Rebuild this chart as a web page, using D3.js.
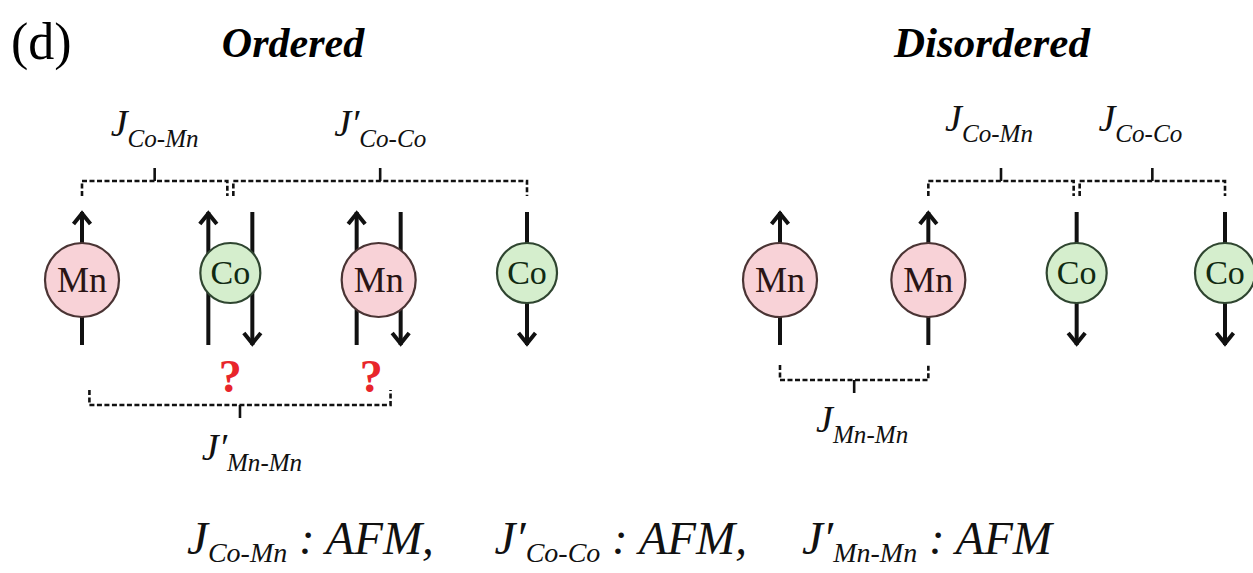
<!DOCTYPE html>
<html>
<head>
<meta charset="utf-8">
<script src="https://cdn.jsdelivr.net/npm/d3@7"></script>
<style>
  body { margin: 0; background: #fff; }
  svg text { font-family: 'Liberation Serif', 'Times New Roman', serif; }
</style>
</head>
<body>
<svg id="chart" width="1253" height="573"></svg>
<script>
// Atom chains, left = ordered, right = disordered
const orderedAtoms = ['Mn', 'Co', 'Mn', 'Co'];
const orderedSpins = [['up'], ['up', 'down'], ['up', 'down'], ['down']];
const disorderedAtoms = ['Mn', 'Mn', 'Co', 'Co'];
const disorderedSpins = [['up'], ['up'], ['down'], ['down']];

// Exchange brackets: [from slot, to slot, prime, subscript]
const orderedTop = [[0, 1, '', 'Co-Mn'], [1, 3, '′', 'Co-Co']];
const orderedBottom = [[0.05, 2.08, '′', 'Mn-Mn']];
const disorderedTop = [[1, 2, '', 'Co-Mn'], [2, 3, '', 'Co-Co']];
const disorderedBottom = [[0, 1, '', 'Mn-Mn']];

// Unresolved couplings (slot positions of the red marks)
const questionSlots = [1, 1.95];

// Summary line
const summary = [['', 'Co-Mn', 'AFM,'], ['′', 'Co-Co', 'AFM,'], ['′', 'Mn-Mn', 'AFM']];

const svg = d3.select('#chart');

const xOrd = d3.scaleLinear().domain([0, 3]).range([82, 527]);
const xDis = d3.scaleLinear().domain([0, 3]).range([780, 1225]);

const fill = { Mn: '#f8d2d7', Co: '#d5eecd' };
const edge = { Mn: '#4a3434', Co: '#2f4530' };
const radius = { Mn: 37, Co: 30 };
const cy = { Mn: 280, Co: 273 };

const spinTop = 212, spinBottom = 345, spinGap = 22;

// Headings
svg.append('text').attr('x', 11).attr('y', 59)
  .attr('font-size', 52).text('(d)');
svg.append('text').attr('x', 293).attr('y', 57)
  .attr('text-anchor', 'middle').attr('font-size', 42)
  .attr('font-weight', 'bold').attr('font-style', 'italic').text('Ordered');
svg.append('text').attr('x', 992).attr('y', 57)
  .attr('text-anchor', 'middle').attr('font-size', 43)
  .attr('font-weight', 'bold').attr('font-style', 'italic').text('Disordered');

function chevron(g, x, y, dir) {
  const h = 12 * dir;
  g.append('path')
    .attr('d', `M${x - 8.5},${y + h} L${x},${y + 1.5 * dir} L${x + 8.5},${y + h}`)
    .attr('fill', 'none').attr('stroke', '#111')
    .attr('stroke-width', 4).attr('stroke-linejoin', 'miter');
}

function drawChain(atoms, spins, x) {
  const g = svg.append('g');
  atoms.forEach((el, i) => {
    const cx = x(i);
    const n = spins[i].length;
    spins[i].forEach((s, k) => {
      const lx = n === 1 ? cx : cx + (k === 0 ? -spinGap : spinGap);
      g.append('line')
        .attr('x1', lx).attr('x2', lx)
        .attr('y1', spinTop).attr('y2', spinBottom)
        .attr('stroke', '#111').attr('stroke-width', 4);
      if (s === 'up') chevron(g, lx, spinTop, 1);
      else chevron(g, lx, spinBottom, -1);
    });
  });
  atoms.forEach((el, i) => {
    const cx = x(i);
    g.append('circle')
      .attr('cx', cx).attr('cy', cy[el]).attr('r', radius[el])
      .attr('fill', fill[el]).attr('stroke', edge[el]).attr('stroke-width', 2.2);
    g.append('text')
      .attr('x', cx).attr('y', cy[el] + (el === 'Mn' ? 12 : 11))
      .attr('text-anchor', 'middle')
      .attr('font-size', el === 'Mn' ? 36 : 34)
      .attr('fill', el === 'Mn' ? '#2a1515' : '#102a12')
      .text(el);
  });
}

function jLabel(g, x, y, prime, sub, size) {
  const t = g.append('text').attr('x', x).attr('y', y)
    .attr('text-anchor', 'middle').attr('font-style', 'italic')
    .attr('font-size', size).attr('fill', '#111');
  t.append('tspan').text('J' + prime);
  t.append('tspan').attr('font-size', size * 0.66).attr('dy', size * 0.28).text(sub);
  return t;
}

// dir = -1 for brackets above the chain, 1 for below
function drawBrackets(list, x, y, dir, labelY, labelDx) {
  const g = svg.append('g');
  list.forEach(([a, b, prime, sub], i) => {
    const x0 = x(a) + (i > 0 ? 3 : 0);
    const x1 = x(b) - (i < list.length - 1 ? 3 : 0);
    const mid = (x0 + x1) / 2;
    g.append('path')
      .attr('d', `M${x0},${y - dir * 15} L${x0},${y} L${x1},${y} L${x1},${y - dir * 15}`)
      .attr('fill', 'none').attr('stroke', '#111')
      .attr('stroke-width', 2.6).attr('stroke-dasharray', '5,2.5');
    g.append('line')
      .attr('x1', mid).attr('x2', mid)
      .attr('y1', y).attr('y2', y + dir * 13)
      .attr('stroke', '#111').attr('stroke-width', 2.6);
    jLabel(g, mid + labelDx, labelY, prime, sub, 38);
  });
}

drawChain(orderedAtoms, orderedSpins, xOrd);
drawChain(disorderedAtoms, disorderedSpins, xDis);

drawBrackets(orderedTop, xOrd, 181, -1, 136, 0);
drawBrackets(orderedBottom, xOrd, 405, 1, 460, 12);
drawBrackets(disorderedTop, xDis, 181, -1, 131, -12);
drawBrackets(disorderedBottom, xDis, 380, 1, 432, 8);

svg.append('g').selectAll('text')
  .data(questionSlots)
  .join('text')
  .attr('x', d => xOrd(d)).attr('y', 392)
  .attr('text-anchor', 'middle').attr('font-size', 46)
  .attr('font-weight', 'bold').attr('fill', '#e8252b')
  .text('?');

// Summary line
const sumX = d3.scalePoint().domain(d3.range(summary.length)).range([187, 802]);
summary.forEach(([prime, sub, val], i) => {
  const t = svg.append('text').attr('x', sumX(i)).attr('y', 554)
    .attr('font-style', 'italic').attr('font-size', 47).attr('fill', '#111');
  t.append('tspan').text('J' + prime);
  t.append('tspan').attr('font-size', 28).attr('dy', 8).text(sub);
  t.append('tspan').attr('dy', -8).text(' : ' + val);
});
</script>
</body>
</html>
